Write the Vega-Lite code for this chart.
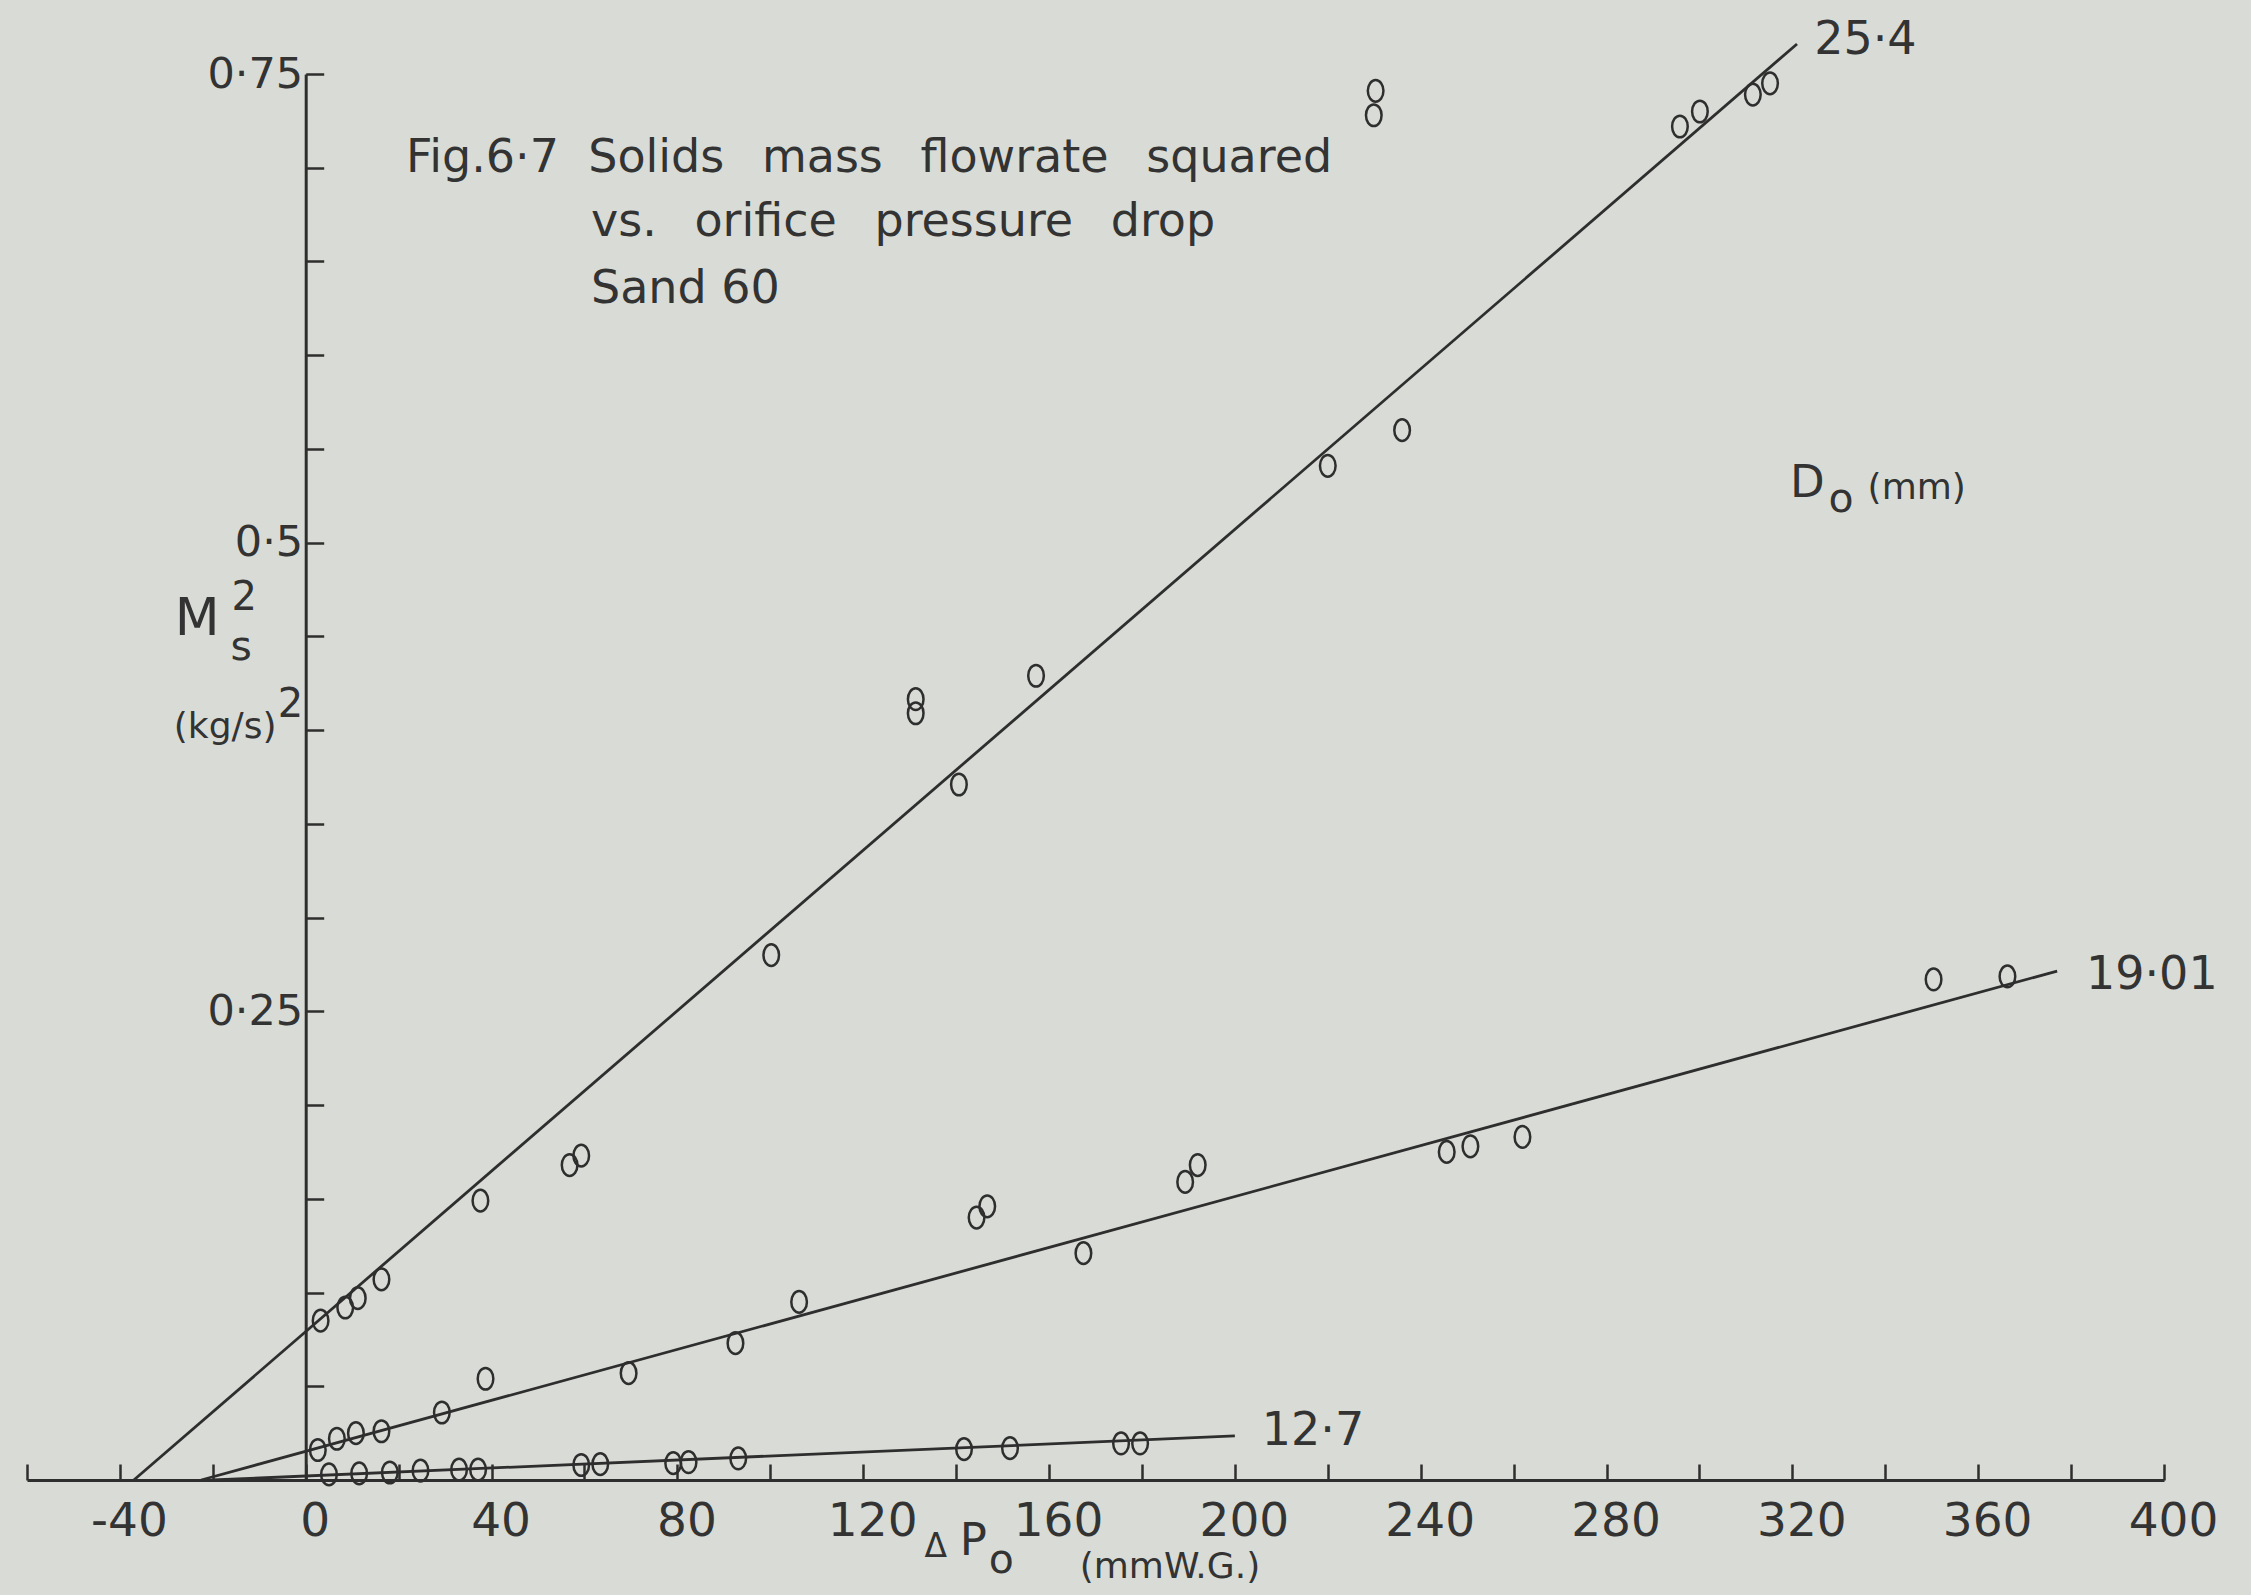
{
  "$schema": "https://vega.github.io/schema/vega-lite/v6.json",
  "width": 2137,
  "height": 1406,
  "autosize": {"type": "none"},
  "padding": {"left": 27, "top": 74, "right": 87, "bottom": 115},
  "background": "#d9dcd6",
  "config": {
    "view": {"stroke": null},
    "axis": {"grid": false},
    "text": {"font": "DejaVu Sans", "color": "#333333"}
  },
  "datasets": {
    "fits": [
      {"series": "25.4", "x": -37, "y": 0},
      {"series": "25.4", "x": 321, "y": 0.766},
      {"series": "19.01", "x": -22.5, "y": 0},
      {"series": "19.01", "x": 377, "y": 0.2715},
      {"series": "12.7", "x": -20, "y": 0},
      {"series": "12.7", "x": 200, "y": 0.0235}
    ],
    "obs": [
      {"series": "25.4", "x": 3.2, "y": 0.085},
      {"series": "25.4", "x": 8.5, "y": 0.092},
      {"series": "25.4", "x": 11.2, "y": 0.097},
      {"series": "25.4", "x": 16.3, "y": 0.107},
      {"series": "25.4", "x": 37.6, "y": 0.149},
      {"series": "25.4", "x": 56.8, "y": 0.168},
      {"series": "25.4", "x": 59.3, "y": 0.173},
      {"series": "25.4", "x": 100.2, "y": 0.28},
      {"series": "25.4", "x": 131.3, "y": 0.409},
      {"series": "25.4", "x": 131.3, "y": 0.4165},
      {"series": "25.4", "x": 140.6, "y": 0.371},
      {"series": "25.4", "x": 157.2, "y": 0.429},
      {"series": "25.4", "x": 220, "y": 0.541},
      {"series": "25.4", "x": 236, "y": 0.56},
      {"series": "25.4", "x": 229.9, "y": 0.728},
      {"series": "25.4", "x": 230.3, "y": 0.741},
      {"series": "25.4", "x": 295.8, "y": 0.722},
      {"series": "25.4", "x": 300.1, "y": 0.73},
      {"series": "25.4", "x": 311.5, "y": 0.739},
      {"series": "25.4", "x": 315.2, "y": 0.745},
      {"series": "19.01", "x": 2.6, "y": 0.016},
      {"series": "19.01", "x": 6.7, "y": 0.022},
      {"series": "19.01", "x": 10.8, "y": 0.025},
      {"series": "19.01", "x": 16.3, "y": 0.026},
      {"series": "19.01", "x": 29.3, "y": 0.036},
      {"series": "19.01", "x": 38.7, "y": 0.054},
      {"series": "19.01", "x": 69.5, "y": 0.057},
      {"series": "19.01", "x": 92.5, "y": 0.073},
      {"series": "19.01", "x": 106.2, "y": 0.095},
      {"series": "19.01", "x": 144.4, "y": 0.14},
      {"series": "19.01", "x": 146.7, "y": 0.146},
      {"series": "19.01", "x": 167.4, "y": 0.121},
      {"series": "19.01", "x": 189.3, "y": 0.159},
      {"series": "19.01", "x": 192, "y": 0.168},
      {"series": "19.01", "x": 245.6, "y": 0.175},
      {"series": "19.01", "x": 250.7, "y": 0.178},
      {"series": "19.01", "x": 261.9, "y": 0.183},
      {"series": "19.01", "x": 350.4, "y": 0.267},
      {"series": "19.01", "x": 366.3, "y": 0.2686},
      {"series": "12.7", "x": 5, "y": 0.003},
      {"series": "12.7", "x": 11.5, "y": 0.0035},
      {"series": "12.7", "x": 18.1, "y": 0.004},
      {"series": "12.7", "x": 24.7, "y": 0.005},
      {"series": "12.7", "x": 33, "y": 0.0055},
      {"series": "12.7", "x": 37.1, "y": 0.0055},
      {"series": "12.7", "x": 59.3, "y": 0.008},
      {"series": "12.7", "x": 63.4, "y": 0.0085},
      {"series": "12.7", "x": 79.1, "y": 0.009},
      {"series": "12.7", "x": 82.4, "y": 0.0095},
      {"series": "12.7", "x": 93.1, "y": 0.0115},
      {"series": "12.7", "x": 141.7, "y": 0.0165},
      {"series": "12.7", "x": 151.6, "y": 0.017},
      {"series": "12.7", "x": 175.5, "y": 0.0195},
      {"series": "12.7", "x": 179.6, "y": 0.0195}
    ],
    "tags": [
      {"t": "25·4", "x": 324.7, "y": 0.7605},
      {"t": "19·01", "x": 383.2, "y": 0.262},
      {"t": "12·7", "x": 205.8, "y": 0.0187}
    ],
    "caption": [
      {"t": "Fig.6·7", "x": 21.6, "y": 0.6976},
      {"t": "Solids\u2002\u00a0mass\u2002\u00a0flowrate\u2002\u00a0squared", "x": 60.8, "y": 0.6976},
      {"t": "vs.\u2002\u00a0orifice\u2002\u00a0pressure\u2002\u00a0drop", "x": 61.4, "y": 0.6635},
      {"t": "Sand 60", "x": 61.4, "y": 0.6277}
    ],
    "bigSymbol": [
      {"t": "M", "x": -28.2, "y": 0.4507}
    ],
    "symbols": [
      {"t": "P", "x": 140.8, "y": -0.04},
      {"t": "D", "x": 319.5, "y": 0.5243}
    ],
    "scripts": [
      {"t": "s", "x": -16.2, "y": 0.4373},
      {"t": "o", "x": 147.0, "y": -0.0496},
      {"t": "o", "x": 327.8, "y": 0.5163}
    ],
    "powers": [
      {"t": "2", "x": -16.0, "y": 0.464},
      {"t": "2", "x": -6.0, "y": 0.4069}
    ],
    "delta": [
      {"t": "Δ", "x": 133.2, "y": -0.0411}
    ],
    "units": [
      {"t": "(kg/s)", "x": -28.4, "y": 0.3957},
      {"t": "(mmW.G.)", "x": 166.6, "y": -0.0523},
      {"t": "(mm)", "x": 336.2, "y": 0.5232}
    ]
  },
  "encoding": {
    "x": {
      "field": "x",
      "type": "quantitative",
      "scale": {"domain": [-60, 400], "nice": false, "zero": false},
      "axis": {
        "title": null,
        "values": [-60, -40, -20, 0, 20, 40, 60, 80, 100, 120, 140, 160, 180, 200, 220, 240, 260, 280, 300, 320, 340, 360, 380, 400],
        "labelExpr": "datum.value % 40 == 0 ? '' + datum.value : ''",
        "domainColor": "#2e2e2e",
        "domainWidth": 3,
        "tickColor": "#2e2e2e",
        "tickWidth": 2.5,
        "tickSize": -16,
        "labelPadding": 34,
        "labelOffset": 9,
        "labelFont": "DejaVu Sans",
        "labelFontSize": 47,
        "labelColor": "#333333",
        "labelFlush": false,
        "labelOverlap": false,
        "labelBound": false
      }
    },
    "y": {
      "field": "y",
      "type": "quantitative",
      "scale": {"domain": [0, 0.75], "nice": false, "zero": false},
      "axis": {
        "title": null,
        "offset": -278.7,
        "values": [0, 0.05, 0.1, 0.15, 0.2, 0.25, 0.3, 0.35, 0.4, 0.45, 0.5, 0.55, 0.6, 0.65, 0.7, 0.75],
        "labelExpr": "datum.value == 0.25 ? '0·25' : datum.value == 0.5 ? '0·5' : datum.value == 0.75 ? '0·75' : ''",
        "domainColor": "#2e2e2e",
        "domainWidth": 3,
        "tickColor": "#2e2e2e",
        "tickWidth": 2.5,
        "tickSize": -18,
        "labelPadding": 21,
        "labelFont": "DejaVu Sans",
        "labelFontSize": 43,
        "labelColor": "#333333",
        "labelFlush": false,
        "labelOverlap": false,
        "labelBound": false
      }
    }
  },
  "layer": [
    {
      "data": {"name": "fits"},
      "mark": {"type": "line", "color": "#2e2e2e", "strokeWidth": 2.8},
      "encoding": {"detail": {"field": "series"}}
    },
    {
      "data": {"name": "obs"},
      "mark": {
        "type": "point",
        "shape": "M -0.72,0 A 0.72,1 0 1,1 0.72,0 A 0.72,1 0 1,1 -0.72,0 Z",
        "filled": false,
        "color": "#2e2e2e",
        "strokeWidth": 2.5,
        "size": 470,
        "opacity": 1
      },
      "encoding": {"detail": {"field": "series"}}
    },
    {
      "data": {"name": "tags"},
      "mark": {"type": "text", "align": "left", "baseline": "alphabetic", "fontSize": 46},
      "encoding": {"text": {"field": "t"}}
    },
    {
      "data": {"name": "caption"},
      "mark": {"type": "text", "align": "left", "baseline": "alphabetic", "fontSize": 46},
      "encoding": {"text": {"field": "t"}}
    },
    {
      "data": {"name": "bigSymbol"},
      "mark": {"type": "text", "align": "left", "baseline": "alphabetic", "fontSize": 52},
      "encoding": {"text": {"field": "t"}}
    },
    {
      "data": {"name": "symbols"},
      "mark": {"type": "text", "align": "left", "baseline": "alphabetic", "fontSize": 45},
      "encoding": {"text": {"field": "t"}}
    },
    {
      "data": {"name": "scripts"},
      "mark": {"type": "text", "align": "left", "baseline": "alphabetic", "fontSize": 41},
      "encoding": {"text": {"field": "t"}}
    },
    {
      "data": {"name": "powers"},
      "mark": {"type": "text", "align": "left", "baseline": "alphabetic", "fontSize": 40},
      "encoding": {"text": {"field": "t"}}
    },
    {
      "data": {"name": "delta"},
      "mark": {"type": "text", "align": "left", "baseline": "alphabetic", "fontSize": 33},
      "encoding": {"text": {"field": "t"}}
    },
    {
      "data": {"name": "units"},
      "mark": {"type": "text", "align": "left", "baseline": "alphabetic", "fontSize": 36},
      "encoding": {"text": {"field": "t"}}
    }
  ]
}
